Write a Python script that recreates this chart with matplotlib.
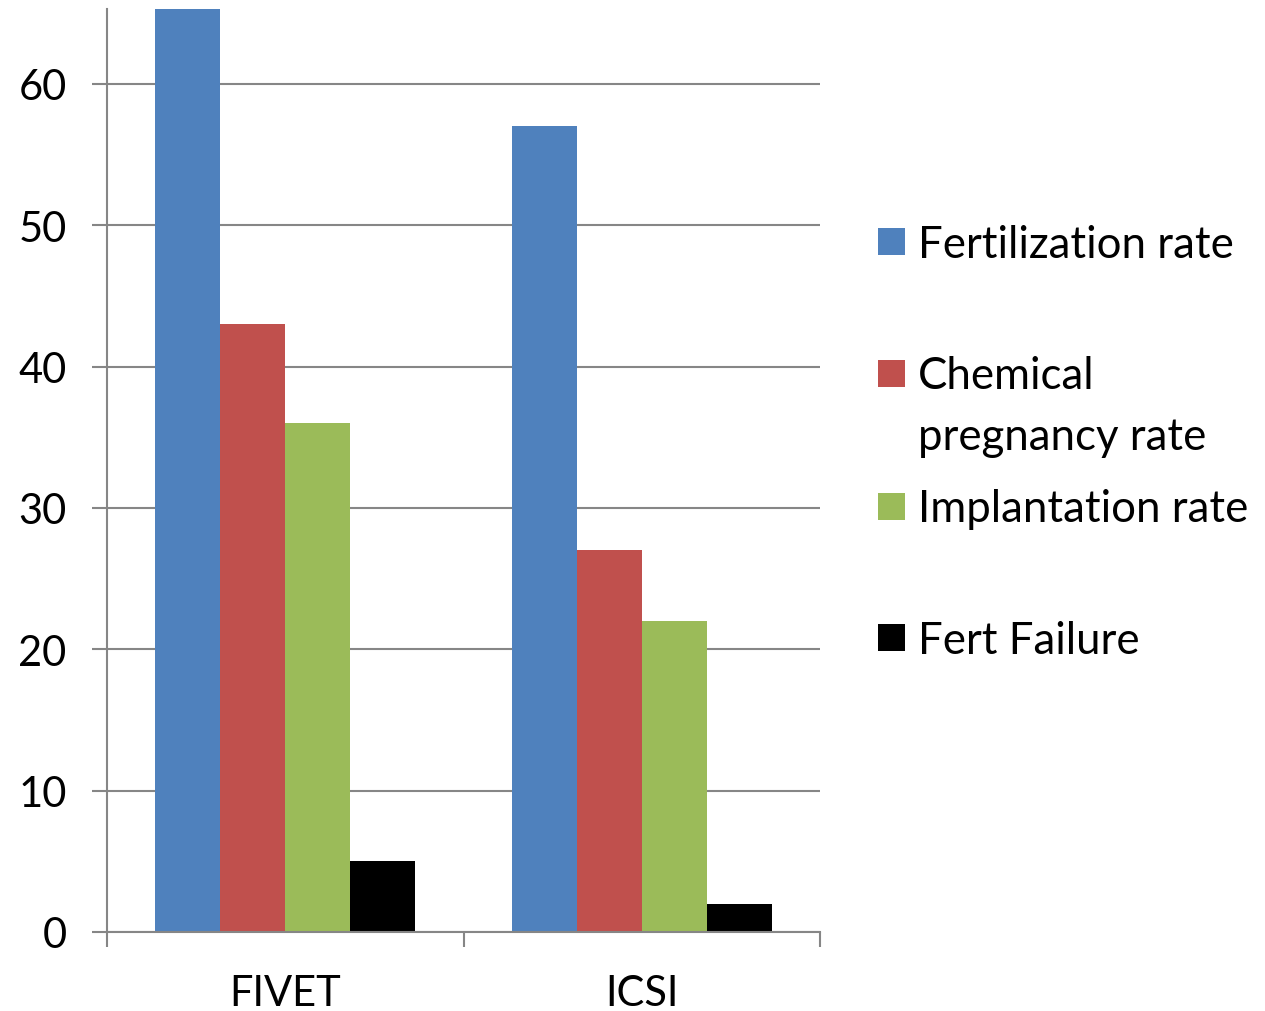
import matplotlib.pyplot as plt
from matplotlib.patches import Rectangle
import numpy as np

plt.rcParams['font.family'] = ['Lato', 'DejaVu Sans']

# data
categories = ['FIVET', 'ICSI']
series_names = ['Fertilization rate', 'Chemical\npregnancy rate', 'Implantation rate', 'Fert Failure']
fertilization = [70, 57]
chemical = [43, 27]
implantation = [36, 22]
fert_failure = [5, 2]
colors = ['#4F81BD', '#C0504D', '#9BBB59', '#000000']
y_ticks = [0, 10, 20, 30, 40, 50, 60]

values = [fertilization, chemical, implantation, fert_failure]

fig = plt.figure(figsize=(12.65, 10.12), dpi=100)
ax = fig.add_axes([107 / 1265, 1 - 933 / 1012, (820 - 107) / 1265, (933 - 10) / 1012])

x = np.arange(len(categories))
w = 0.1826
for i, (vals, col) in enumerate(zip(values, colors)):
    ax.bar(x + (i - 1.5) * w, vals, width=w, color=col, zorder=3, linewidth=0)

ax.set_xlim(-0.5, 1.5)
ax.set_ylim(0, 65.3)

# grid + axes styling
grid_col = '#868686'
ax.set_yticks(y_ticks)
ax.yaxis.grid(True, color=grid_col, linewidth=1.5, zorder=0)
ax.tick_params(axis='y', length=11, width=1.5, color=grid_col, pad=18, labelsize=30)
ax.set_xticks([-0.5, 0.5, 1.5])
ax.set_xticklabels([])
ax.tick_params(axis='x', which='major', length=11, width=1.5, color=grid_col)
ax.set_xticks(x, minor=True)
ax.set_xticklabels(categories, minor=True)
ax.tick_params(axis='x', which='minor', length=0, pad=30, labelsize=30)

for s in ['top', 'right']:
    ax.spines[s].set_visible(False)
for s in ['left', 'bottom']:
    ax.spines[s].set_color(grid_col)
    ax.spines[s].set_linewidth(1.5)
    ax.spines[s].set_zorder(4)

# legend drawn by hand
legend_y = [242, 374, 507, 638]
for name, col, ly in zip(series_names, colors, legend_y):
    fig.add_artist(Rectangle((878 / 1265, 1 - (ly + 13.5) / 1012), 27 / 1265, 27 / 1012,
                             transform=fig.transFigure, color=col, linewidth=0))
    lines = name.split('\n')
    for k, line in enumerate(lines):
        fig.text(918 / 1265, 1 - (ly + 3 + 60 * k) / 1012, line, fontsize=31.5,
                 va='center', ha='left')

fig.savefig('out.png', dpi=100)
